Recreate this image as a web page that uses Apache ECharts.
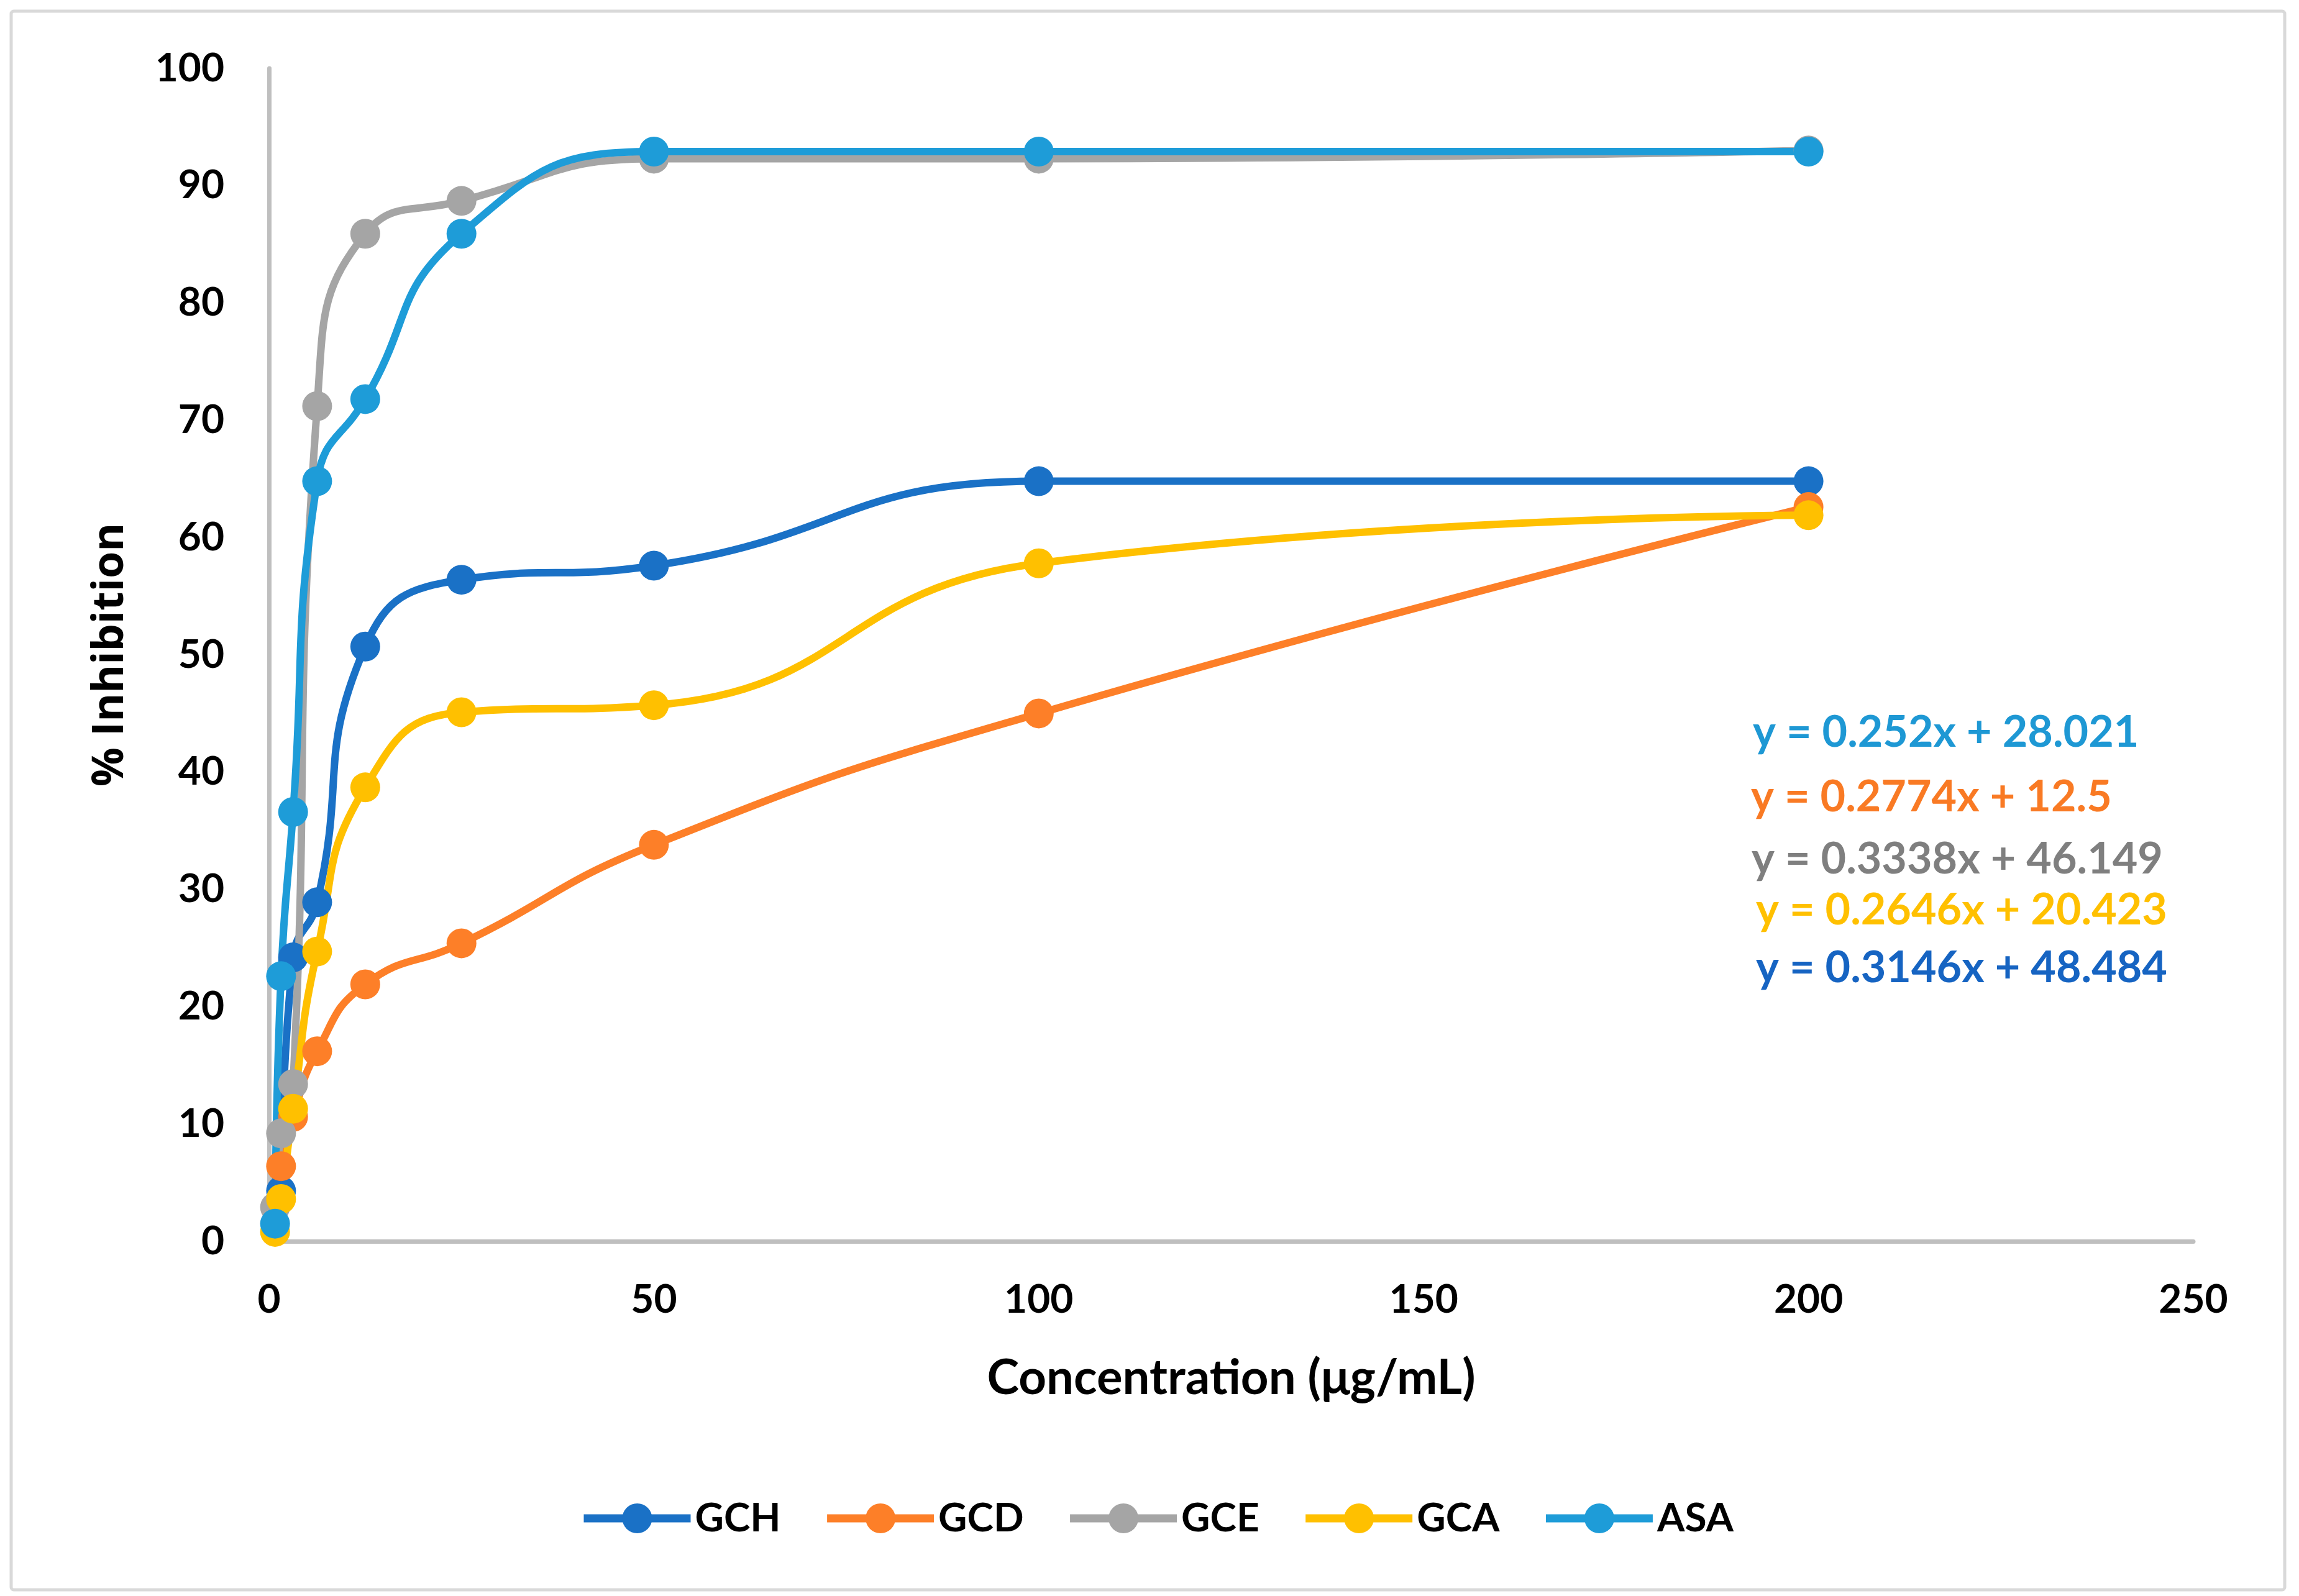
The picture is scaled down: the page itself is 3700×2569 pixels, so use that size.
<!DOCTYPE html>
<html>
<head>
<meta charset="utf-8">
<script src="https://cdn.jsdelivr.net/npm/echarts@6/dist/echarts.min.js"></script>
<style>
html,body{margin:0;padding:0;background:#fff;}
#chart{width:3700px;height:2569px;}
</style>
</head>
<body>
<div id="chart"></div>
<script>
// Concentrations (µg/mL)
const concentrations = [0.78125, 1.5625, 3.125, 6.25, 12.5, 25, 50, 100, 200];
// % Inhibition per sample (null = no point)
const GCH = [null, 4.3, 24.2, 28.9, 50.7, 56.4, 57.6, 64.8, 64.8];
const GCD = [null, 6.4, 10.6, 16.2, 21.9, 25.4, 33.8, 45.0, 62.6];
const GCE = [2.9, 9.2, 13.4, 71.2, 85.9, 88.7, 92.3, 92.3, 93.0];
const GCA = [0.8, 3.6, 11.3, 24.7, 38.7, 45.1, 45.7, 57.8, 61.9];
const ASA = [1.5, 22.6, 36.6, 64.8, 71.8, 85.9, 92.9, 92.9, 92.9];

const seriesNames = ['GCH', 'GCD', 'GCE', 'GCA', 'ASA'];
const seriesValues = [GCH, GCD, GCE, GCA, ASA];
const seriesColors = ['#1a71c6', '#fd7f28', '#a5a5a5', '#ffc000', '#1e9cd8'];

// Trendline equations shown on the chart
const equations = [
  'y = 0.252x + 28.021',
  'y = 0.2774x + 12.5',
  'y = 0.3338x + 46.149',
  'y = 0.2646x + 20.423',
  'y = 0.3146x + 48.484'
];
const equationColors = ['#1e98d4', '#f97a24', '#7f7f7f', '#ffc000', '#1664c2'];

const xTicks = [0, 50, 100, 150, 200, 250];
const yTicks = [0, 10, 20, 30, 40, 50, 60, 70, 80, 90, 100];

const FONT = 'Lato';

function pairs(vals) {
  const out = [];
  vals.forEach((v, i) => { if (v !== null) out.push([concentrations[i], v]); });
  return out;
}

const eqLeft = [2821, 2818, 2819, 2826, 2826];
const eqY = [1182, 1286, 1386, 1468, 1561];

const chart = echarts.init(document.getElementById('chart'), null, {renderer: 'canvas'});
chart.setOption({
  animation: false,
  backgroundColor: '#ffffff',
  grid: {left: 433, right: 170, top: 110, bottom: 571, containLabel: false},
  xAxis: {
    type: 'value',
    min: xTicks[0], max: xTicks[xTicks.length - 1], interval: 50,
    name: 'Concentration (\u03bcg/mL)',
    nameLocation: 'middle',
    nameGap: 182,
    nameTextStyle: {fontFamily: FONT, fontWeight: 'bold', fontSize: 78, color: '#000'},
    axisLine: {show: true, lineStyle: {color: '#bfbfbf', width: 7}},
    axisTick: {show: false},
    splitLine: {show: false},
    axisLabel: {fontFamily: FONT, fontWeight: 'bold', fontSize: 64, color: '#000', margin: 62}
  },
  yAxis: {
    type: 'value',
    min: yTicks[0], max: yTicks[yTicks.length - 1], interval: 10,
    name: '% Inhibition',
    nameLocation: 'middle',
    nameRotate: 90,
    nameGap: 220,
    nameTextStyle: {fontFamily: 'Open Sans', fontWeight: 'bold', fontSize: 70, color: '#000'},
    axisLine: {show: true, lineStyle: {color: '#bfbfbf', width: 7}},
    axisTick: {show: false},
    splitLine: {show: false},
    axisLabel: {fontFamily: FONT, fontWeight: 'bold', fontSize: 64, color: '#000', margin: 72}
  },
  legend: {
    left: 928, top: 2407,
    itemWidth: 172, itemHeight: 60, itemGap: 68,
    lineStyle: {width: 13},
    textStyle: {fontFamily: FONT, fontWeight: 'bold', fontSize: 64, color: '#000', padding: [0, 0, 0, 2]},
    data: seriesNames
  },
  series: seriesNames.map((name, i) => ({
    name: name,
    type: 'line',
    data: pairs(seriesValues[i]),
    smooth: 0.5,
    symbol: 'circle',
    symbolSize: 48,
    showSymbol: true,
    lineStyle: {color: seriesColors[i], width: 12},
    itemStyle: {color: seriesColors[i]},
    emphasis: {disabled: true}
  })),
  graphic: [
    {
      type: 'rect',
      shape: {x: 18, y: 18, width: 3659, height: 2541, r: 4},
      style: {fill: 'none', stroke: '#d9d9d9', lineWidth: 5},
      silent: true
    }
  ].concat(equations.map((t, i) => ({
    type: 'text',
    left: eqLeft[i],
    top: eqY[i] - 38,
    style: {text: t, fill: equationColors[i], font: 'bold 70px ' + FONT},
    silent: true
  })))
});
</script>
</body>
</html>
